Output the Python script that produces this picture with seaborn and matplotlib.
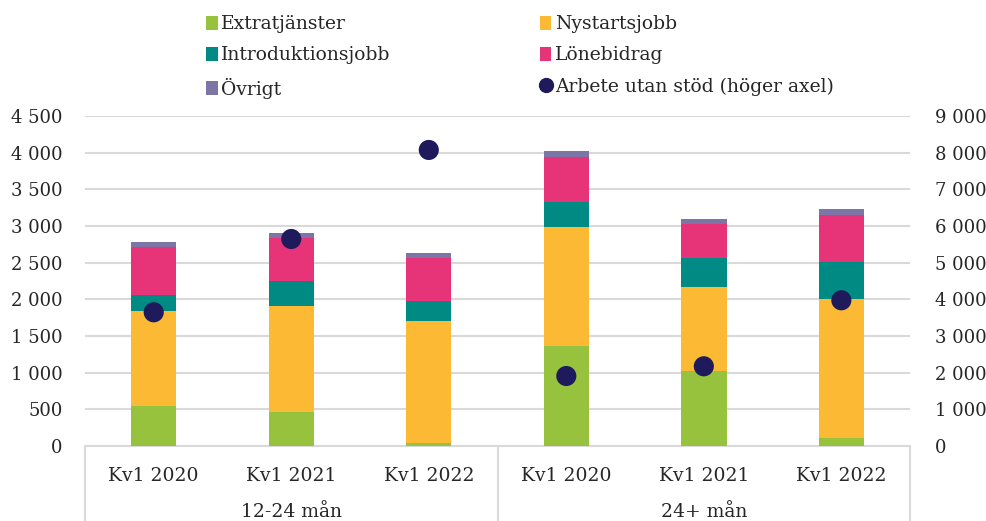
import matplotlib
matplotlib.use("Agg")
import matplotlib.pyplot as plt
import matplotlib.ticker as mticker
from matplotlib.patches import Patch
from matplotlib.lines import Line2D
import numpy as np
import pandas as pd
import seaborn as sns

# ----------------------------------------------------
# Data
# ----------------------------------------------------
GROUPS = ["12-24 mån", "12-24 mån", "12-24 mån", "24+ mån", "24+ mån", "24+ mån"]
QUARTERS = ["Kv1 2020", "Kv1 2021", "Kv1 2022", "Kv1 2020", "Kv1 2021", "Kv1 2022"]

extratjanster = [542, 464, 33, 1366, 1025, 109]
nystartsjobb = [1298, 1444, 1666, 1626, 1147, 1895]
introduktionsjobb = [219, 342, 278, 333, 396, 510]
lonebidrag = [655, 592, 591, 623, 465, 638]
ovrigt = [65, 68, 69, 82, 68, 78]
arbete_utan_stod = [3645, 5648, 8080, 1904, 2170, 3973]  # right axis

SERIES = [
    ("Extratjänster", extratjanster, "#97C23D"),
    ("Nystartsjobb", nystartsjobb, "#FBB934"),
    ("Introduktionsjobb", introduktionsjobb, "#008A84"),
    ("Lönebidrag", lonebidrag, "#E73378"),
    ("Övrigt", ovrigt, "#7C75A6"),
]
DOT_LABEL = "Arbete utan stöd (höger axel)"
DOT_COLOR = "#1F1A5B"
GRID_COLOR = "#D9D9D9"

# ----------------------------------------------------
# Style
# ----------------------------------------------------
sns.set_theme(style="white")
plt.rcParams["font.family"] = ["DejaVu Serif"]
plt.rcParams["font.size"] = 12


def thousands(v, pos=None):
    return f"{int(round(v)):,}".replace(",", " ")


df = pd.DataFrame({"group": GROUPS, "quarter": QUARTERS})
df["key"] = [f"{g} {q}" for g, q in zip(GROUPS, QUARTERS)]
for name, vals, _ in SERIES:
    df[name] = vals
df[DOT_LABEL] = arbete_utan_stod

fig = plt.figure(figsize=(9.87, 5.21), dpi=100)
ax = fig.add_axes([0.0861, 0.1445, 0.836, 0.6323])

# Stacked bars: draw cumulative totals from top segment down
names = [s[0] for s in SERIES]
cum = df[names].cumsum(axis=1)
for name, _, color in reversed(SERIES):
    sns.barplot(ax=ax, x=df["key"], y=cum[name], color=color,
                width=0.33, saturation=1, order=list(df["key"]),
                linewidth=0, zorder=3)

ax.set_ylim(0, 4500)
ax.set_xlim(-0.5, len(df) - 0.5)
ax.yaxis.set_major_locator(mticker.MultipleLocator(500))
ax.yaxis.set_major_formatter(mticker.FuncFormatter(thousands))
ax.grid(axis="y", color=GRID_COLOR, linewidth=1.5, zorder=0)
ax.set_axisbelow(True)
ax.set_xlabel("")
ax.set_ylabel("")
ax.set_xticks(range(len(df)))
ax.set_xticklabels(QUARTERS)
ax.tick_params(axis="x", length=0, pad=15, labelsize=13.5)
ax.tick_params(axis="y", length=0, pad=16, labelsize=13)
for side in ["top", "left", "right"]:
    ax.spines[side].set_visible(False)
ax.spines["bottom"].set_color(GRID_COLOR)
ax.spines["bottom"].set_linewidth(1.5)

# Category box lines below the axis
trans = ax.get_xaxis_transform()
for xb in [-0.5, 2.5, 5.5]:
    ax.plot([xb, xb], [0, -0.24], transform=trans, color=GRID_COLOR,
            linewidth=1.5, clip_on=False)
for i, g in enumerate(["12-24 mån", "24+ mån"]):
    ax.text(1 + 3 * i, -0.2, g, transform=trans, ha="center", va="center",
            fontsize=13.5)

# Right axis dots
ax2 = ax.twinx()
sns.scatterplot(ax=ax2, x=np.arange(len(df)), y=df[DOT_LABEL], s=210,
                color=DOT_COLOR, edgecolor="none", zorder=5, legend=False)
ax2.set_ylim(0, 9000)
ax2.yaxis.set_major_locator(mticker.MultipleLocator(1000))
ax2.yaxis.set_major_formatter(mticker.FuncFormatter(thousands))
ax2.tick_params(axis="y", length=0, pad=18, labelsize=13)
ax2.set_ylabel("")
for side in ["top", "left", "right", "bottom"]:
    ax2.spines[side].set_visible(False)

# Legend (row-wise order: matplotlib fills columns first)
handles = [Patch(facecolor=c, edgecolor="none", label=n) for n, _, c in SERIES]
handles.append(Line2D([], [], marker="o", linestyle="none", color=DOT_COLOR,
                      markersize=10, label=DOT_LABEL))
order = [0, 2, 4, 1, 3, 5]
fig.legend(handles=[handles[i] for i in order], loc="upper left",
           bbox_to_anchor=(0.192, 1.003), ncol=2, frameon=False,
           fontsize=13.5, handlelength=0.6, handleheight=0.8,
           handletextpad=0.2, columnspacing=7.95, labelspacing=0.7)

fig.savefig("out.png", dpi=100)
